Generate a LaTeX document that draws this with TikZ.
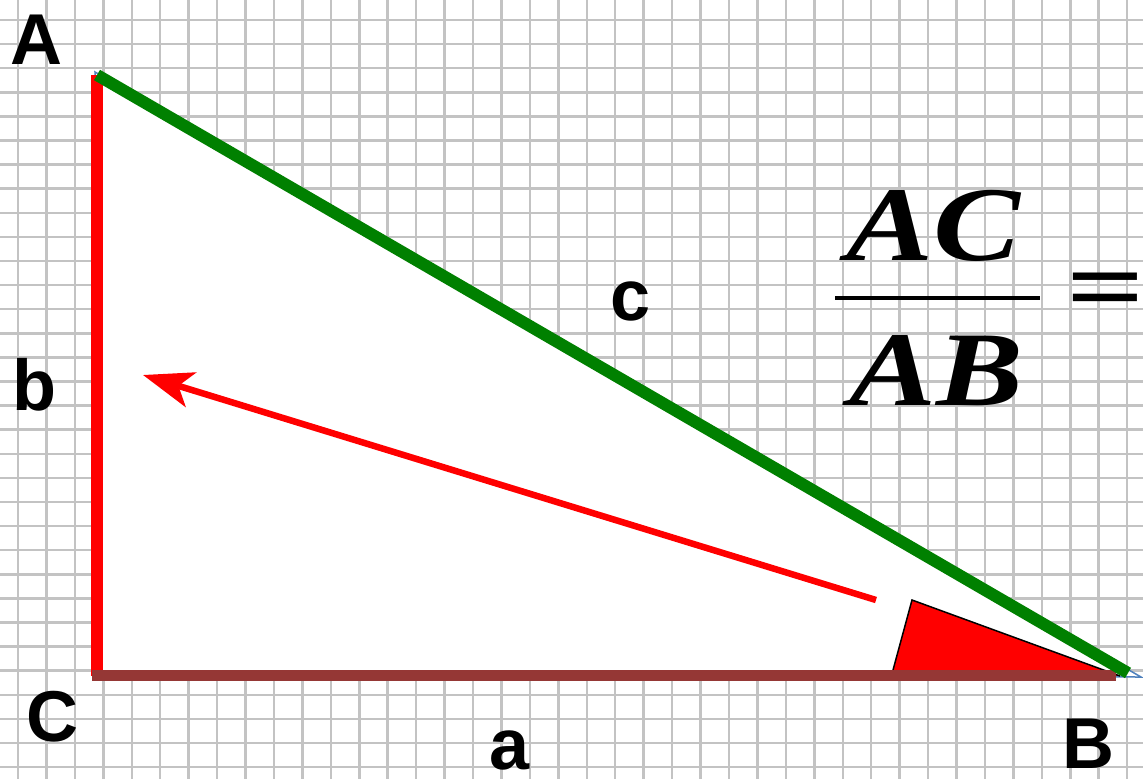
\documentclass[tikz,border=0pt]{standalone}
\usepackage{fontspec}
\usetikzlibrary{arrows.meta}
\newfontfamily\labfont{Liberation Sans}
\newfontfamily\frmfont{Liberation Serif}
\definecolor{gridgray}{RGB}{195,195,195}
\definecolor{brownline}{RGB}{149,55,53}
\definecolor{greenline}{RGB}{0,128,0}
\definecolor{tipblue}{RGB}{79,129,189}
\tikzset{
  gridline/.style={draw=gridgray, line width=2.5pt},
  lab/.style={font=\labfont\bfseries\fontsize{72}{80}\selectfont, inner sep=0pt, anchor=base},
  frm/.style={font=\frmfont\bfseries\itshape\fontsize{106}{110}\selectfont, inner sep=0pt, anchor=base, xscale=1.23},
}
\begin{document}
\begin{tikzpicture}[x=1pt,y=-1pt]
\useasboundingbox (0,0) rectangle (1143,779);
\fill[white] (0,0) rectangle (1143,779);
% grid
\foreach \i in {0,...,39} \draw[gridline] ({18+28.44*\i},0) -- ({18+28.44*\i},779);
\foreach \j in {0,...,31} \draw[gridline] (0,{20+24.1*\j}) -- (1143,{20+24.1*\j});
% vertices
\coordinate (A) at (97,75);
\coordinate (C) at (97,675.5);
\coordinate (Cl) at (92,675.5);
\coordinate (B) at (1128,673);
\coordinate (Aout) at (95,72);
\coordinate (Bout) at (1141,677);
\coordinate (Bbase) at (1116,675.5);
% white triangle with thin blue outline
\filldraw[fill=white, draw=tipblue, line width=1.5pt] (Aout) -- (C) -- (Bout) -- cycle;
% angle marker
\coordinate (m1) at (893,670);
\coordinate (m2) at (912,600);
\coordinate (m3) at (1120,676);
\filldraw[fill=red, draw=black, line width=1.5pt, line join=miter] (m1) -- (m2) -- (m3);
% sides
\draw[red, line width=11.5pt] (C) -- (A);
\draw[brownline, line width=11pt] (Cl) -- (Bbase);
\draw[greenline, line width=12pt] (A) -- (B);
% arrow
\coordinate (arrS) at (876,600);
\coordinate (arrE) at (143,375);
\draw[red, line width=6.5pt, -{Stealth[length=50pt, width=36pt, inset=13pt]}] (arrS) -- (arrE);
% labels
\node[lab] (lA) at (36.5,64) {A};
\node[lab] (lb) at (34,410) {b};
\node[lab] (lC) at (52,741) {C};
\node[lab] (la) at (510,769) {a};
\node[lab] (lB) at (1088,768) {B};
\node[lab] (lc) at (631,320) {c};
% fraction
\node[frm] (num) at (933,260) {AC};
\node[frm] (den) at (936,405) {AB};
\coordinate (bar1) at (835,298);
\coordinate (bar2) at (1040,298);
\draw[black, line width=4pt] (bar1) -- (bar2);
\node[font=\frmfont\bfseries\fontsize{106}{110}\selectfont, inner sep=0pt, xscale=1.3] (eq) at (1106,297.5) {=};
\end{tikzpicture}
\end{document}
